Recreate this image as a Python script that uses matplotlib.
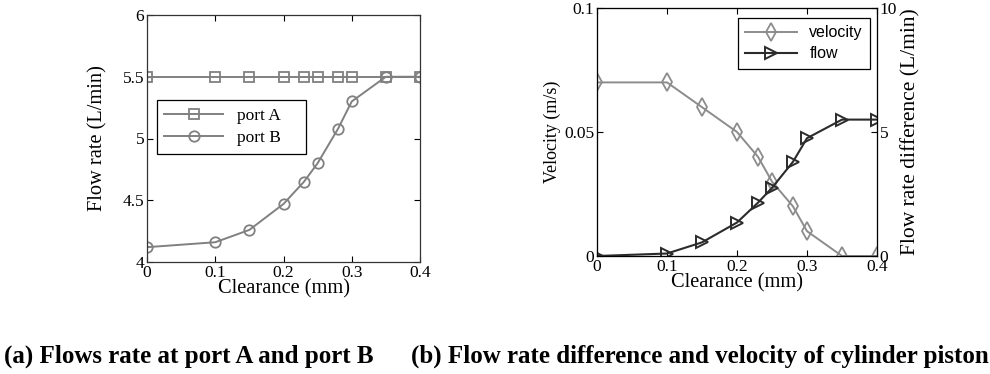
import matplotlib.pyplot as plt

# clearance values (mm)
clearance = [0, 0.1, 0.15, 0.2, 0.23, 0.25, 0.28, 0.3, 0.35, 0.4]
port_a = [5.5, 5.5, 5.5, 5.5, 5.5, 5.5, 5.5, 5.5, 5.5, 5.5]
port_b = [4.12, 4.16, 4.26, 4.47, 4.65, 4.80, 5.08, 5.30, 5.50, 5.50]
velocity = [0.07, 0.07, 0.06, 0.05, 0.04, 0.03, 0.02, 0.01, 0.0, 0.0]
flow_diff = [0.0, 0.1, 0.55, 1.35, 2.15, 2.75, 3.8, 4.75, 5.5, 5.5]

plt.rcParams['font.family'] = ['Liberation Serif', 'DejaVu Serif']

fig = plt.figure(figsize=(9.9, 3.74), dpi=100)
W, H = 990, 374

def box(x0, y0, x1, y1):
    return [x0 / W, 1 - y1 / H, (x1 - x0) / W, (y1 - y0) / H]

def spines(ax):
    for s in ax.spines.values():
        s.set_linewidth(0.9)
        s.set_color('#333333')

gray = '#808080'
tick_fs = 12.5

# (a)
ax1 = fig.add_axes(box(147, 15, 420, 262))
ax1.plot(clearance, port_a, color=gray, marker='s', mfc='none', ms=7.5, mew=1.3, lw=1.4, label='port A')
ax1.plot(clearance, port_b, color=gray, marker='o', mfc='none', ms=7.5, mew=1.3, lw=1.4, label='port B')
ax1.set_xlim(0, 0.4)
ax1.set_ylim(4, 6)
ax1.set_xticks([0, 0.1, 0.2, 0.3, 0.4])
ax1.set_xticklabels(['0', '0.1', '0.2', '0.3', '0.4'])
ax1.set_yticks([4, 4.5, 5, 5.5, 6])
ax1.set_yticklabels(['4', '4.5', '5', '5.5', '6'])
ax1.set_xlabel('Clearance (mm)', fontsize=14.7, labelpad=-1)
ax1.set_ylabel('Flow rate (L/min)', fontsize=14.7, labelpad=11)
ax1.tick_params(direction='in', top=True, right=True, labelsize=tick_fs, length=4, pad=2)
spines(ax1)
leg = ax1.legend(['port A    ', 'port B    '], loc='upper left', bbox_to_anchor=(0.035, 0.655),
                 borderaxespad=0, fontsize=12.5, fancybox=False, edgecolor='black', framealpha=1,
                 handlelength=3.4, borderpad=0.45, labelspacing=0.35)
leg.get_frame().set_linewidth(0.9)

# (b)
ax2 = fig.add_axes(box(597, 8, 877, 256))
l1, = ax2.plot(clearance, velocity, color='#8c8c8c', marker='d', mfc='none', ms=9, mew=1.3, lw=1.4)
ax2.set_xlim(0, 0.4)
ax2.set_ylim(0, 0.1)
ax2.set_xticks([0, 0.1, 0.2, 0.3, 0.4])
ax2.set_xticklabels(['0', '0.1', '0.2', '0.3', '0.4'])
ax2.set_yticks([0, 0.05, 0.1])
ax2.set_yticklabels(['0', '0.05', '0.1'])
ax2.set_xlabel('Clearance (mm)', fontsize=14.7, labelpad=-1)
ax2.set_ylabel('Velocity (m/s)', fontsize=13, labelpad=2)
ax2.tick_params(direction='in', top=True, right=False, labelsize=tick_fs, length=4, pad=2)
spines(ax2)

ax3 = ax2.twinx()
l2, = ax3.plot(clearance, flow_diff, color='#2b2b2b', marker='>', mfc='none', ms=8.5, mew=1.4, lw=1.5)
ax3.set_ylim(0, 10)
ax3.set_yticks([0, 5, 10])
ax3.set_yticklabels(['0', '5', '10'])
ax3.set_ylabel('Flow rate difference (L/min)', fontsize=15.5, labelpad=3)
ax3.tick_params(direction='in', labelsize=tick_fs, length=4, pad=2)
leg2 = ax3.legend([l1, l2], ['velocity', 'flow'], loc='upper right', bbox_to_anchor=(0.975, 0.96),
                  borderaxespad=0, prop={'family': 'Liberation Sans', 'size': 11.5}, fancybox=False,
                  edgecolor='black', framealpha=1, handlelength=3.2, borderpad=0.45, labelspacing=0.4)
leg2.get_frame().set_linewidth(0.9)

# captions
fig.text(189 / W, 1 - 356 / H, '(a) Flows rate at port A and port B', ha='center', va='center',
         fontsize=18, fontweight='bold')
fig.text(700 / W, 1 - 356 / H, '(b) Flow rate difference and velocity of cylinder piston', ha='center',
         va='center', fontsize=18, fontweight='bold')

fig.savefig('out.png', dpi=100)
